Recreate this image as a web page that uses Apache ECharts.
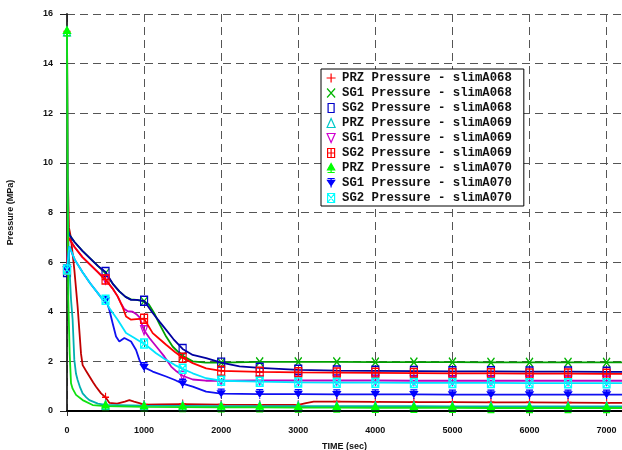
<!DOCTYPE html>
<html>
<head>
<meta charset="utf-8">
<script src="https://cdn.jsdelivr.net/npm/echarts@6/dist/echarts.min.js"></script>
<style>
  html, body { margin: 0; padding: 0; background: #fff; }
  #chart { width: 622px; height: 450px; }
</style>
</head>
<body>
<div id="chart"></div>
<script>
// Pressure transients, [time (s), pressure (MPa)]
const przA068 = [[0,15.3],[10,9.5],[25,7.4],[50,7.0],[95,5.7],[138,4.2],[182,2.3],[203,1.85],[250,1.6],[290,1.4],[340,1.15],[377,0.98],[442,0.71],[500,0.55],[549,0.33],[650,0.3],[750,0.38],[809,0.44],[870,0.38],[939,0.32],[1000,0.26],[1200,0.27],[1500,0.28],[2000,0.26],[2500,0.25],[3000,0.25],[3100,0.32],[3200,0.38],[3500,0.38],[4000,0.37],[4500,0.36],[5000,0.36],[5500,0.35],[6000,0.35],[6500,0.34],[7000,0.33],[7200,0.33]];
const sg1A068 = [[0,5.7],[15,7.2],[30,7.1],[100,6.8],[200,6.45],[300,6.15],[400,5.85],[500,5.55],[600,5.1],[679,4.82],[760,4.6],[831,4.5],[900,4.48],[1000,4.42],[1060,4.3],[1130,3.95],[1200,3.5],[1286,3.0],[1370,2.6],[1458,2.33],[1500,2.22],[1631,2.0],[1800,1.95],[2000,1.95],[2500,1.98],[3000,1.98],[3500,1.98],[4000,1.97],[4500,1.97],[5000,1.97],[5500,1.96],[6000,1.96],[6500,1.96],[7000,1.96],[7200,1.96]];
const sg2A068 = [[0,5.6],[15,7.25],[30,7.1],[100,6.8],[200,6.45],[300,6.15],[400,5.85],[500,5.6],[600,5.1],[679,4.82],[760,4.6],[831,4.48],[900,4.48],[1000,4.44],[1112,3.95],[1200,3.6],[1286,3.27],[1380,2.9],[1500,2.5],[1631,2.26],[1805,2.13],[2000,1.95],[2238,1.8],[2500,1.74],[3000,1.66],[3500,1.63],[4000,1.62],[4500,1.61],[5000,1.6],[5500,1.6],[6000,1.59],[6500,1.59],[7000,1.58],[7200,1.58]];
const przA069 = [[0,15.3],[10,8.5],[21,6.5],[52,4.5],[73,3.68],[95,2.06],[117,1.5],[138,1.25],[170,0.95],[203,0.71],[250,0.55],[290,0.44],[400,0.3],[500,0.25],[1000,0.22],[1500,0.21],[2000,0.2],[2500,0.2],[3000,0.2],[3500,0.2],[4000,0.2],[4500,0.2],[5000,0.19],[5500,0.19],[6000,0.19],[6500,0.19],[7000,0.19],[7200,0.19]];
const sg1A069 = [[0,5.7],[15,7.0],[30,6.95],[100,6.6],[200,6.2],[300,5.9],[400,5.6],[500,5.3],[600,4.9],[657,4.62],[700,4.35],[740,4.12],[787,4.02],[852,4.0],[900,3.9],[939,3.78],[1000,3.25],[1069,2.94],[1177,2.53],[1264,2.19],[1351,1.79],[1420,1.6],[1500,1.42],[1631,1.27],[1800,1.22],[2000,1.22],[2500,1.23],[3000,1.23],[3500,1.23],[4000,1.23],[4500,1.22],[5000,1.22],[5500,1.22],[6000,1.22],[6500,1.22],[7000,1.22],[7200,1.22]];
const sg2A069 = [[0,5.7],[15,7.0],[30,6.95],[100,6.6],[200,6.2],[300,5.9],[400,5.6],[462,5.4],[500,5.3],[600,4.9],[657,4.62],[720,4.2],[766,3.81],[831,3.68],[900,3.7],[1000,3.72],[1112,3.14],[1200,2.9],[1286,2.67],[1400,2.38],[1500,2.15],[1631,1.93],[1805,1.72],[2000,1.62],[2500,1.58],[3000,1.56],[3500,1.55],[4000,1.54],[4500,1.53],[5000,1.52],[5500,1.52],[6000,1.51],[6500,1.51],[7000,1.5],[7200,1.5]];
const przA070 = [[0,15.3],[8,9],[17,4.5],[35,2.3],[52,1.12],[73,0.9],[117,0.65],[203,0.44],[333,0.24],[500,0.2],[1000,0.17],[1500,0.16],[2000,0.15],[2500,0.15],[3000,0.14],[3500,0.14],[4000,0.13],[4500,0.13],[5000,0.13],[5500,0.12],[6000,0.12],[6500,0.12],[7000,0.12],[7200,0.12]];
const sg1A070 = [[0,5.7],[30,6.64],[100,6.1],[200,5.6],[300,5.15],[400,4.75],[462,4.5],[500,4.45],[520,4.35],[549,4.08],[592,3.54],[636,3.0],[679,2.8],[744,2.94],[831,2.8],[896,2.46],[939,2.06],[982,1.79],[1000,1.76],[1112,1.59],[1286,1.39],[1400,1.25],[1500,1.1],[1631,0.98],[1805,0.78],[2000,0.7],[2500,0.68],[3000,0.68],[3500,0.67],[4000,0.67],[4500,0.67],[5000,0.66],[5500,0.66],[6000,0.66],[6500,0.66],[7000,0.66],[7200,0.66]];
const sg2A070 = [[0,5.7],[30,6.64],[100,6.1],[200,5.6],[300,5.15],[400,4.75],[462,4.5],[500,4.48],[549,4.15],[657,3.68],[766,3.14],[870,2.95],[974,2.75],[1000,2.72],[1156,2.33],[1286,2.06],[1400,1.85],[1500,1.7],[1631,1.52],[1805,1.32],[2000,1.22],[2500,1.18],[3000,1.15],[3500,1.14],[4000,1.14],[4500,1.13],[5000,1.13],[5500,1.13],[6000,1.12],[6500,1.12],[7000,1.12],[7200,1.12]];

const seriesNames = [
  'PRZ Pressure - slimA068', 'SG1 Pressure - slimA068', 'SG2 Pressure - slimA068',
  'PRZ Pressure - slimA069', 'SG1 Pressure - slimA069', 'SG2 Pressure - slimA069',
  'PRZ Pressure - slimA070', 'SG1 Pressure - slimA070', 'SG2 Pressure - slimA070'
];
const seriesData = [przA068, sg1A068, sg2A068, przA069, sg1A069, sg2A069, przA070, sg1A070, sg2A070];

// Marker shapes
const shapes = {
  plus:   'path://M4,0L4,8M0,4L8,4',
  cross:  'path://M0,0L8,9M8,0L0,9',
  box:    'path://M0,0L6,0L6,9L0,9Z',
  triUp:  'path://M4,0L8,9L0,9Z',
  triDn:  'path://M0,0L8,0L4,9Z',
  boxPlus:'path://M0,0L7,0L7,9L0,9ZM3.5,0L3.5,9M0,4.5L7,4.5',
  tree:   'path://M4,0L8,7L0,7ZM4,0L4,10M0,10L8,10',
  drop:   'path://M0,0L8,0M0,2L8,2L4,8ZM4,0L4,10',
  boxX:   'path://M0,0L7,0L7,9L0,9ZM0,0L7,9M7,0L0,9'
};
const NOFILL = 'rgba(0,0,0,0)';
const styles = [
  { line: '#c00000', mark: '#ff0000', shape: shapes.plus,    fill: NOFILL },
  { line: '#00a000', mark: '#00b400', shape: shapes.cross,   fill: NOFILL },
  { line: '#0000a0', mark: '#0000c8', shape: shapes.box,     fill: NOFILL },
  { line: '#00b0b0', mark: '#00c8c8', shape: shapes.triUp,   fill: NOFILL },
  { line: '#c000c0', mark: '#d000d0', shape: shapes.triDn,   fill: NOFILL },
  { line: '#ff0000', mark: '#ff0000', shape: shapes.boxPlus, fill: NOFILL },
  { line: '#10e010', mark: '#00ff00', shape: shapes.tree,    fill: '#00ff00' },
  { line: '#1010f0', mark: '#0000ff', shape: shapes.drop,    fill: '#0000ff' },
  { line: '#00e4ff', mark: '#00ffff', shape: shapes.boxX,    fill: NOFILL }
];

const gridDash = { color: '#555', width: 1, type: [8, 5] };
const tickFont = { fontFamily: 'Liberation Sans', fontWeight: 'bold', fontSize: 9, color: '#111' };

const series = seriesNames.map((name, i) => ({
  name,
  type: 'line',
  data: seriesData[i],
  lineStyle: { color: styles[i].line, width: 1.8 },
  itemStyle: { color: styles[i].fill, borderColor: styles[i].mark, borderWidth: 1.3 },
  symbol: (v) => (v[0] % 500 === 0 ? styles[i].shape : 'none'),
  symbolSize: [7, 9],
  showAllSymbol: true,
  emphasis: { disabled: true },
  z: 2 + i
}));

const chart = echarts.init(document.getElementById('chart'), null, { renderer: 'canvas' });
chart.setOption({
  animation: false,
  backgroundColor: '#fff',
  grid: { left: 67, right: 0, top: 14, bottom: 39, containLabel: false, outerBoundsMode: 'none' },
  xAxis: [{
    type: 'value', min: 0, max: 7200, interval: 1000,
    name: 'TIME (sec)', nameLocation: 'middle', nameGap: 31,
    nameTextStyle: { fontFamily: 'Liberation Sans', fontWeight: 'bold', fontSize: 9, color: '#111' },
    axisLine: { show: true, onZero: false, lineStyle: { color: '#000', width: 1.8 } },
    axisTick: { show: true, length: 5, lineStyle: { color: '#333' } },
    axisLabel: Object.assign({ margin: 15, showMaxLabel: false, formatter: (v) => String(v) }, tickFont),
    splitLine: { show: true, lineStyle: gridDash }
  }, {
    type: 'value', min: 0, max: 7200, position: 'top', z: 20,
    axisLine: { show: true, lineStyle: { color: '#000', width: 1.5 } },
    axisTick: { show: false }, axisLabel: { show: false }, splitLine: { show: false }
  }],
  yAxis: {
    type: 'value', min: 0, max: 16, interval: 2,
    name: 'Pressure (MPa)', nameLocation: 'middle', nameGap: 52,
    nameTextStyle: { fontFamily: 'Liberation Sans', fontWeight: 'bold', fontSize: 9, color: '#111' },
    axisLine: { show: true, lineStyle: { color: '#222', width: 1.8 } },
    axisTick: { show: true, length: 7, lineStyle: { color: '#222' } },
    axisLabel: Object.assign({ margin: 14 }, tickFont),
    splitLine: { show: true, lineStyle: gridDash }
  },
  legend: {
    orient: 'vertical',
    left: 321, top: 69,
    padding: [3, 12, 2, 5],
    itemGap: 3,
    itemWidth: 12, itemHeight: 9,
    backgroundColor: '#fff',
    borderColor: '#000', borderWidth: 1,
    selectedMode: false,
    textStyle: { fontFamily: 'Liberation Mono', fontWeight: 'bold', fontSize: 12.3, color: '#111' },
    data: seriesNames.map((name, i) => ({
      name,
      icon: styles[i].shape,
      itemStyle: { color: styles[i].fill, borderColor: styles[i].mark, borderWidth: 1.2 }
    }))
  },
  series
});
</script>
</body>
</html>
